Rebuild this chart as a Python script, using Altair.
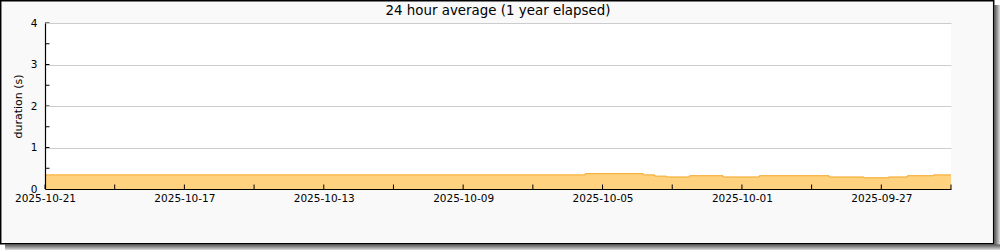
import altair as alt
import pandas as pd

# ---- data ----
times = [
    "2025-09-25T00:00:00Z", "2025-09-25T12:00:00Z", "2025-09-26T06:00:00Z",
    "2025-09-26T19:00:00Z", "2025-09-27T12:00:00Z", "2025-09-28T12:00:00Z",
    "2025-09-30T12:00:00Z", "2025-10-01T13:00:00Z", "2025-10-02T12:00:00Z",
    "2025-10-03T04:00:00Z", "2025-10-03T12:00:00Z", "2025-10-03T20:00:00Z",
    "2025-10-05T12:00:00Z", "2025-10-21T00:00:00Z",
]
values = [0.34, 0.32, 0.29, 0.27, 0.29, 0.32, 0.29, 0.32, 0.29, 0.31, 0.34, 0.37, 0.34, 0.34]

tick_dates = ["2025-09-25", "2025-09-27", "2025-09-29", "2025-10-01", "2025-10-03",
              "2025-10-05", "2025-10-07", "2025-10-09", "2025-10-11", "2025-10-13",
              "2025-10-15", "2025-10-17", "2025-10-19", "2025-10-21"]
label_dates = ["2025-09-27", "2025-10-01", "2025-10-05", "2025-10-09",
               "2025-10-13", "2025-10-17", "2025-10-21"]
x_start, x_end = "2025-09-25", "2025-10-21"
y_tick_vals = [0.5, 1, 1.5, 2, 2.5, 3, 3.5, 4]
y_label_vals = [0, 1, 2, 3, 4]
chart_title = "24 hour average (1 year elapsed)"
y_title = "duration (s)"

FONT = "DejaVu Sans"
W, H = 906, 166


def ms(d):
    return int(pd.Timestamp(d, tz="UTC").value // 10**6)


df = pd.DataFrame({"time": times, "value": values})
df_xt = pd.DataFrame({"time": [d + "T00:00:00Z" for d in tick_dates]})
df_yt = pd.DataFrame({"value": y_tick_vals})

xscale = alt.Scale(type="utc", domain=[ms(x_start), ms(x_end)], reverse=True)
yscale = alt.Scale(domain=[0, 4])

xaxis = alt.Axis(values=[ms(d) for d in label_dates], format="%Y-%m-%d",
                 ticks=False, tickSize=0, grid=False, domainColor="black",
                 domainWidth=1.2, labelFont=FONT, labelFontSize=10.5,
                 labelColor="black", labelPadding=4, labelFlush=False,
                 title=None, zindex=1)
yaxis = alt.Axis(values=y_label_vals, grid=True, gridColor="#cccccc", gridWidth=1,
                 ticks=False, tickSize=0, domainColor="black", domainWidth=1.2,
                 labelFont=FONT, labelFontSize=10.5, labelColor="black",
                 labelPadding=8, title=y_title, titleFont=FONT, titleFontSize=11,
                 titleFontWeight="normal", titleColor="black", titleX=-27,
                 titleY=H / 2, titleAngle=270, titleBaseline="middle",
                 titleAlign="center", zindex=1)

deco = alt.Data(values=[{}])

shadow_r = alt.Chart(deco).mark_rect(
    fill=alt.Gradient(gradient="linear",
                      stops=[alt.GradientStop(color="#555555", offset=0),
                             alt.GradientStop(color="#dddddd", offset=1)],
                      x1=0, x2=1, y1=0, y2=0)
).encode(x=alt.value(949.5), x2=alt.value(955), y=alt.value(-18), y2=alt.value(227))

shadow_b = alt.Chart(deco).mark_rect(
    fill=alt.Gradient(gradient="linear",
                      stops=[alt.GradientStop(color="#555555", offset=0),
                             alt.GradientStop(color="#dddddd", offset=1)],
                      x1=0, x2=0, y1=0, y2=1)
).encode(x=alt.value(-40), x2=alt.value(955), y=alt.value(221.5), y2=alt.value(227))

frame = alt.Chart(deco).mark_rect(fill="#f9f9f9", stroke="black", strokeWidth=1.5).encode(
    x=alt.value(-44.3), x2=alt.value(948.7), y=alt.value(-22.3), y2=alt.value(220.7))

plotbg = alt.Chart(deco).mark_rect(fill="white").encode(
    x=alt.value(0), x2=alt.value(W), y=alt.value(0), y2=alt.value(H))

area = alt.Chart(df).mark_area(
    interpolate="step-before", color="#ffd27f", opacity=1,
    line=alt.OverlayMarkDef(color="#f5a623", strokeWidth=1)
).encode(
    x=alt.X("time:T", scale=xscale, axis=xaxis),
    y=alt.Y("value:Q", scale=yscale, axis=yaxis),
)

xticks = alt.Chart(df_xt).mark_rule(color="black", strokeWidth=1).encode(
    x=alt.X("time:T", scale=xscale),
    y=alt.value(H - 4.5), y2=alt.value(H),
)

yticks = alt.Chart(df_yt).mark_rule(color="black", strokeWidth=1).encode(
    y=alt.Y("value:Q", scale=yscale),
    x=alt.value(0), x2=alt.value(4.5),
)

chart = alt.layer(shadow_r, shadow_b, frame, plotbg, area, xticks, yticks).properties(
    width=W, height=H,
    title=alt.TitleParams(text=chart_title, font=FONT, fontSize=13.4,
                          fontWeight="normal", color="black", offset=0, dy=28,
                          baseline="alphabetic", anchor="middle", frame="group"),
    autosize=alt.AutoSizeParams(type="none"),
    padding={"left": 45, "top": 23, "right": 49, "bottom": 61},
    background="white",
).configure_view(stroke="transparent")

chart.save("out.html", embed_options={"renderer": "svg", "actions": False})
